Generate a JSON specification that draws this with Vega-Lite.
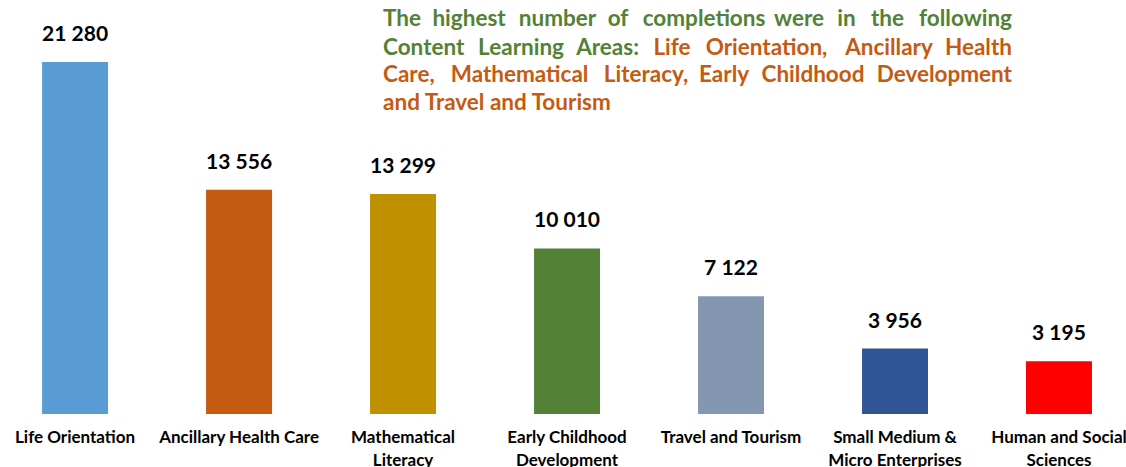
{
  "$schema": "https://vega.github.io/schema/vega-lite/v6.json",
  "width": 1126,
  "height": 414,
  "autosize": {"type": "none"},
  "padding": {"left": 0, "right": 0, "top": 0, "bottom": 53},
  "background": "white",
  "config": {
    "view": {"stroke": null},
    "font": "Lato",
    "text": {"font": "Lato", "fontWeight": "bold", "fontSize": 22.5, "align": "center", "baseline": "alphabetic"},
    "locale": {"number": {"decimal": ".", "thousands": " ", "grouping": [3], "currency": ["", ""]}}
  },
  "layer": [
    {
      "data": {"values": [
        {"area": "Life Orientation", "value": 21280},
        {"area": "Ancillary Health Care", "value": 13556},
        {"area": "Mathematical Literacy", "value": 13299},
        {"area": "Early Childhood Development", "value": 10010},
        {"area": "Travel and Tourism", "value": 7122},
        {"area": "Small Medium & Micro Enterprises", "value": 3956},
        {"area": "Human and Social Sciences", "value": 3195}
      ]},
      "encoding": {
        "x": {
          "field": "area", "type": "nominal", "sort": null,
          "scale": {"paddingInner": 0.5976, "paddingOuter": 0.232, "align": 0.553},
          "axis": {
            "title": null, "domain": false, "ticks": false, "labelAngle": 0,
            "labelFont": "Lato", "labelFontWeight": "bold", "labelFontSize": 17,
            "labelColor": "black", "labelPadding": 15, "labelLineHeight": 23,
            "labelOverlap": false, "labelFlush": false, "labelLimit": 300,
            "labelExpr": "datum.value == 'Mathematical Literacy' ? ['Mathematical','Literacy'] : datum.value == 'Early Childhood Development' ? ['Early Childhood','Development'] : datum.value == 'Small Medium & Micro Enterprises' ? ['Small Medium &','Micro Enterprises'] : datum.value == 'Human and Social Sciences' ? ['Human and Social','Sciences'] : datum.label"
          }
        },
        "y": {
          "field": "value", "type": "quantitative",
          "scale": {"domain": [0, 25029], "nice": false, "zero": true},
          "axis": null
        }
      },
      "layer": [
        {
          "mark": {"type": "bar"},
          "encoding": {
            "color": {
              "field": "area", "type": "nominal", "legend": null,
              "scale": {
                "domain": ["Life Orientation", "Ancillary Health Care", "Mathematical Literacy", "Early Childhood Development", "Travel and Tourism", "Small Medium & Micro Enterprises", "Human and Social Sciences"],
                "range": ["#5B9BD5", "#C55A11", "#BF9000", "#538135", "#8497B0", "#2F5597", "#FF0000"]
              }
            }
          }
        },
        {
          "mark": {"type": "text", "fontSize": 21, "color": "black", "align": "center", "baseline": "middle", "dy": -27},
          "encoding": {"text": {"field": "value", "type": "quantitative", "format": ","}}
        }
      ]
    },
    {"data": {"values": [{"t": "The"}]}, "mark": {"type": "text", "color": "#538135", "align": "left", "dx": -20}, "encoding": {"x": {"datum": "Mathematical Literacy", "type": "nominal"}, "y": {"datum": 23475, "type": "quantitative"}, "text": {"field": "t"}}},
    {"data": {"values": [{"t": "highest"}]}, "mark": {"type": "text", "color": "#538135", "dx": 66}, "encoding": {"x": {"datum": "Mathematical Literacy", "type": "nominal"}, "y": {"datum": 23475, "type": "quantitative"}, "text": {"field": "t"}}},
    {"data": {"values": [{"t": "number"}]}, "mark": {"type": "text", "color": "#538135", "dx": -9.5}, "encoding": {"x": {"datum": "Early Childhood Development", "type": "nominal"}, "y": {"datum": 23475, "type": "quantitative"}, "text": {"field": "t"}}},
    {"data": {"values": [{"t": "of"}]}, "mark": {"type": "text", "color": "#538135", "dx": 51}, "encoding": {"x": {"datum": "Early Childhood Development", "type": "nominal"}, "y": {"datum": 23475, "type": "quantitative"}, "text": {"field": "t"}}},
    {"data": {"values": [{"t": "completions"}]}, "mark": {"type": "text", "color": "#538135", "dx": -27}, "encoding": {"x": {"datum": "Travel and Tourism", "type": "nominal"}, "y": {"datum": 23475, "type": "quantitative"}, "text": {"field": "t"}}},
    {"data": {"values": [{"t": "were"}]}, "mark": {"type": "text", "color": "#538135", "dx": 68}, "encoding": {"x": {"datum": "Travel and Tourism", "type": "nominal"}, "y": {"datum": 23475, "type": "quantitative"}, "text": {"field": "t"}}},
    {"data": {"values": [{"t": "in"}]}, "mark": {"type": "text", "color": "#538135", "dx": -48.5}, "encoding": {"x": {"datum": "Small Medium & Micro Enterprises", "type": "nominal"}, "y": {"datum": 23475, "type": "quantitative"}, "text": {"field": "t"}}},
    {"data": {"values": [{"t": "the"}]}, "mark": {"type": "text", "color": "#538135", "dx": -7.5}, "encoding": {"x": {"datum": "Small Medium & Micro Enterprises", "type": "nominal"}, "y": {"datum": 23475, "type": "quantitative"}, "text": {"field": "t"}}},
    {"data": {"values": [{"t": "following"}]}, "mark": {"type": "text", "color": "#538135", "align": "right", "dx": -47}, "encoding": {"x": {"datum": "Human and Social Sciences", "type": "nominal"}, "y": {"datum": 23475, "type": "quantitative"}, "text": {"field": "t"}}},
    {"data": {"values": [{"t": "Content"}]}, "mark": {"type": "text", "color": "#538135", "align": "left", "dx": -20}, "encoding": {"x": {"datum": "Mathematical Literacy", "type": "nominal"}, "y": {"datum": 21703, "type": "quantitative"}, "text": {"field": "t"}}},
    {"data": {"values": [{"t": "Learning"}]}, "mark": {"type": "text", "color": "#538135", "dx": 118}, "encoding": {"x": {"datum": "Mathematical Literacy", "type": "nominal"}, "y": {"datum": 21703, "type": "quantitative"}, "text": {"field": "t"}}},
    {"data": {"values": [{"t": "Areas:"}]}, "mark": {"type": "text", "color": "#538135", "dx": 40.5}, "encoding": {"x": {"datum": "Early Childhood Development", "type": "nominal"}, "y": {"datum": 21703, "type": "quantitative"}, "text": {"field": "t"}}},
    {"data": {"values": [{"t": "Life"}]}, "mark": {"type": "text", "color": "#C55A11", "dx": -59}, "encoding": {"x": {"datum": "Travel and Tourism", "type": "nominal"}, "y": {"datum": 21703, "type": "quantitative"}, "text": {"field": "t"}}},
    {"data": {"values": [{"t": "Orientation,"}]}, "mark": {"type": "text", "color": "#C55A11", "dx": 35.5}, "encoding": {"x": {"datum": "Travel and Tourism", "type": "nominal"}, "y": {"datum": 21703, "type": "quantitative"}, "text": {"field": "t"}}},
    {"data": {"values": [{"t": "Ancillary"}]}, "mark": {"type": "text", "color": "#C55A11", "dx": -6}, "encoding": {"x": {"datum": "Small Medium & Micro Enterprises", "type": "nominal"}, "y": {"datum": 21703, "type": "quantitative"}, "text": {"field": "t"}}},
    {"data": {"values": [{"t": "Health"}]}, "mark": {"type": "text", "color": "#C55A11", "align": "right", "dx": -47}, "encoding": {"x": {"datum": "Human and Social Sciences", "type": "nominal"}, "y": {"datum": 21703, "type": "quantitative"}, "text": {"field": "t"}}},
    {"data": {"values": [{"t": "Care,"}]}, "mark": {"type": "text", "color": "#C55A11", "align": "left", "dx": -20}, "encoding": {"x": {"datum": "Mathematical Literacy", "type": "nominal"}, "y": {"datum": 20089, "type": "quantitative"}, "text": {"field": "t"}}},
    {"data": {"values": [{"t": "Mathematical"}]}, "mark": {"type": "text", "color": "#C55A11", "dx": 116.5}, "encoding": {"x": {"datum": "Mathematical Literacy", "type": "nominal"}, "y": {"datum": 20089, "type": "quantitative"}, "text": {"field": "t"}}},
    {"data": {"values": [{"t": "Literacy,"}]}, "mark": {"type": "text", "color": "#C55A11", "dx": 79}, "encoding": {"x": {"datum": "Early Childhood Development", "type": "nominal"}, "y": {"datum": 20089, "type": "quantitative"}, "text": {"field": "t"}}},
    {"data": {"values": [{"t": "Early"}]}, "mark": {"type": "text", "color": "#C55A11", "dx": -7}, "encoding": {"x": {"datum": "Travel and Tourism", "type": "nominal"}, "y": {"datum": 20089, "type": "quantitative"}, "text": {"field": "t"}}},
    {"data": {"values": [{"t": "Childhood"}]}, "mark": {"type": "text", "color": "#C55A11", "dx": 82}, "encoding": {"x": {"datum": "Travel and Tourism", "type": "nominal"}, "y": {"datum": 20089, "type": "quantitative"}, "text": {"field": "t"}}},
    {"data": {"values": [{"t": "Development"}]}, "mark": {"type": "text", "color": "#C55A11", "align": "right", "dx": -47}, "encoding": {"x": {"datum": "Human and Social Sciences", "type": "nominal"}, "y": {"datum": 20089, "type": "quantitative"}, "text": {"field": "t"}}},
    {"data": {"values": [{"t": "and Travel and Tourism"}]}, "mark": {"type": "text", "color": "#C55A11", "align": "left", "dx": -20}, "encoding": {"x": {"datum": "Mathematical Literacy", "type": "nominal"}, "y": {"datum": 18378, "type": "quantitative"}, "text": {"field": "t"}}}
  ]
}
